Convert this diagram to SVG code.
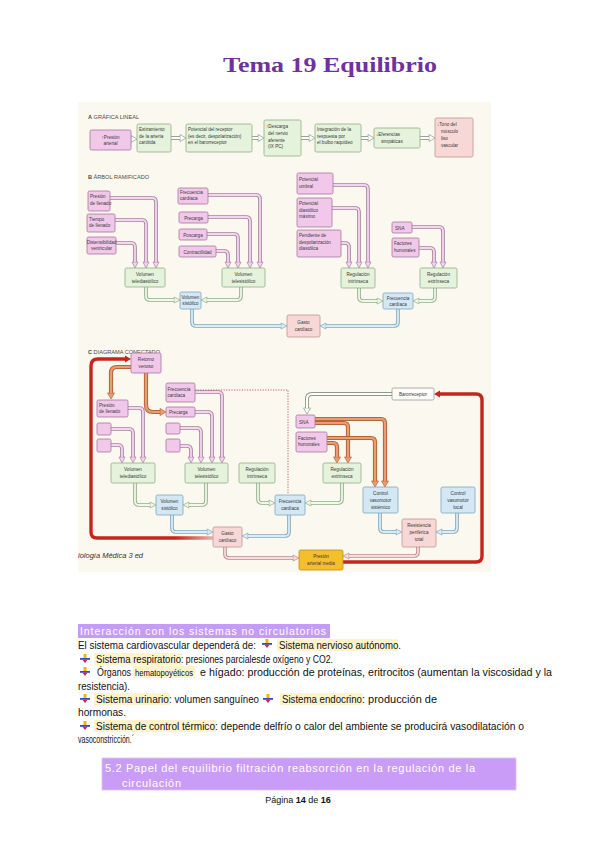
<svg xmlns="http://www.w3.org/2000/svg" xmlns:xlink="http://www.w3.org/1999/xlink" width="600" height="848" viewBox="0 0 600 848">
<style>
.t{font-family:"Liberation Sans",Arial,sans-serif;font-size:4.6px;fill:#3a3a3a}
.c{text-anchor:middle}
.hd{font-family:"Liberation Sans",Arial,sans-serif;font-size:5.6px;fill:#4a4a4a}
.pk{fill:#f1c8ea;stroke:#a7749f;stroke-width:0.8}
.gr{fill:#e5f2dc;stroke:#8fae84;stroke-width:0.8}
.bl{fill:#d3e8f4;stroke:#7fa6bf;stroke-width:0.8}
.ro{fill:#f8d8d6;stroke:#c2948f;stroke-width:0.8}
.yl{fill:#f4be2c;stroke:#c38d22;stroke-width:0.8}
.wh{fill:#fdfcf8;stroke:#9a9a9a;stroke-width:0.8}
.po{fill:none;stroke:#a67da0;stroke-width:3.6;marker-end:url(#mpk)}
.pi{fill:none;stroke:#f5d6f0;stroke-width:1.8}
.go{fill:none;stroke:#8fae84;stroke-width:3.6;marker-end:url(#mgr)}
.gi{fill:none;stroke:#f0f8ea;stroke-width:1.8}
.bo{fill:none;stroke:#7fa6bf;stroke-width:3.6;marker-end:url(#mbl)}
.bi{fill:none;stroke:#d8edf8;stroke-width:1.8}
.yo{fill:none;stroke:#8c9a88;stroke-width:4;marker-end:url(#mgy)}
.yi{fill:none;stroke:#ffffff;stroke-width:2.2}
.oo{fill:none;stroke:#b5653c;stroke-width:4.2;marker-end:url(#mor)}
.oi{fill:none;stroke:#e99d72;stroke-width:2.2}
.ho{fill:none;stroke:#b98a8a;stroke-width:3.6;marker-end:url(#mro)}
.hi{fill:none;stroke:#f6dcdc;stroke-width:1.8}
.bt{font-family:"Liberation Sans",Arial,sans-serif;font-size:10px;fill:#111}
.hl{fill:#fff3cc}
</style>
<defs>
<marker id="mpk" viewBox="-1 -1 8 8" refX="0" refY="3" markerWidth="8" markerHeight="8" markerUnits="userSpaceOnUse" orient="auto"><path d="M0,0 L6,3 L0,6 z" fill="#f5d6f0" stroke="#a67da0" stroke-width="0.7"/></marker>
<marker id="mgr" viewBox="-1 -1 8 8" refX="0" refY="3" markerWidth="8" markerHeight="8" markerUnits="userSpaceOnUse" orient="auto"><path d="M0,0 L6,3 L0,6 z" fill="#f0f8ea" stroke="#8fae84" stroke-width="0.7"/></marker>
<marker id="mbl" viewBox="-1 -1 8 8" refX="0" refY="3" markerWidth="8" markerHeight="8" markerUnits="userSpaceOnUse" orient="auto"><path d="M0,0 L6,3 L0,6 z" fill="#d8edf8" stroke="#7fa6bf" stroke-width="0.7"/></marker>
<marker id="mgy" viewBox="-1 -1 8 9" refX="0" refY="3.5" markerWidth="8" markerHeight="9" markerUnits="userSpaceOnUse" orient="auto"><path d="M0,0 L6,3.5 L0,7 z" fill="#ffffff" stroke="#8c9a88" stroke-width="0.7"/></marker>
<marker id="mor" viewBox="-1 -1 8 9" refX="0" refY="3.5" markerWidth="8" markerHeight="9" markerUnits="userSpaceOnUse" orient="auto"><path d="M0,0 L6,3.5 L0,7 z" fill="#e99d72" stroke="#b5653c" stroke-width="0.7"/></marker>
<marker id="mro" viewBox="-1 -1 8 8" refX="0" refY="3" markerWidth="8" markerHeight="8" markerUnits="userSpaceOnUse" orient="auto"><path d="M0,0 L6,3 L0,6 z" fill="#f6dcdc" stroke="#b98a8a" stroke-width="0.7"/></marker>
<marker id="mrd" viewBox="-1 -1 8 9" refX="0" refY="3.5" markerWidth="8" markerHeight="9" markerUnits="userSpaceOnUse" orient="auto"><path d="M0,0 L6,3.5 L0,7 z" fill="#c5261c"/></marker>
<linearGradient id="rg" gradientUnits="userSpaceOnUse" x1="120" y1="0" x2="213" y2="0"><stop offset="0" stop-color="#c5261c"/><stop offset="0.6" stop-color="#c5261c"/><stop offset="1" stop-color="#eab2ae"/></linearGradient>
<symbol id="bul" viewBox="0 0 10 9"><rect x="3.5" y="0" width="3" height="4" fill="#f5b400"/><rect x="0" y="4" width="10" height="1.8" fill="#2a4fd0"/><path d="M2.5,5.8 L7.5,5.8 L5,9 z" fill="#e0204a"/></symbol>
<path id="a1" d="M128,139 H131"/><path id="a2" d="M171,138 H180"/><path id="a3" d="M252,138 H258"/><path id="a4" d="M301,138 H309"/><path id="a5" d="M361,138 H368"/><path id="a6" d="M420,138 H429"/>
<path id="b1" d="M110,198 H152 Q156,198 156,202 V262"/><path id="b2" d="M115,220 H142 Q146,220 146,224 V262"/><path id="b3" d="M116,243 H131 Q135,243 135,247 V262"/>
<path id="b4" d="M208,195 H256 Q260,195 260,199 V262"/><path id="b5" d="M208,217 H246 Q250,217 250,221 V262"/><path id="b6" d="M207,234 H234 Q238,234 238,238 V262"/><path id="b7" d="M216,251 H224 Q228,251 228,255 V262"/>
<path id="b8" d="M333,185 H364 Q368,185 368,189 V262"/><path id="b9" d="M332,208 H355 Q359,208 359,212 V262"/><path id="b10" d="M341,243 H345 Q349,243 349,247 V262"/>
<path id="b11" d="M412,227 H439 Q443,227 443,231 V262"/><path id="b12" d="M419,248 H430 Q434,248 434,252 V262"/>
<path id="g1" d="M146,287 V296 Q146,300 150,300 H174"/><path id="g2" d="M241,287 V296 Q241,300 237,300 H207"/><path id="g3" d="M359,288 V297 Q359,301 363,301 H377"/><path id="g4" d="M435,288 V297 Q435,301 431,301 H419"/>
<path id="u1" d="M192,309 V322 Q192,326 196,326 H281"/><path id="u2" d="M398,309 V322 Q398,326 394,326 H326"/>
<path id="o1" d="M131,367 H117 Q111,367 111,373 V393"/><path id="o2" d="M146,373 V405 Q146,412 153,412 H160"/>
<path id="c1" d="M128,408 H139 Q143,408 143,412 V457"/><path id="c2" d="M111,429 H129 Q133,429 133,433 V457"/><path id="c3" d="M111,445 H118 Q122,445 122,449 V457"/>
<path id="c4" d="M195,392 H218 Q222,392 222,396 V457"/><path id="c5" d="M195,412 H208 Q212,412 212,416 V457"/><path id="c6" d="M180,428 H197 Q201,428 201,432 V457"/><path id="c7" d="M180,446 H187 Q191,446 191,450 V457"/>
<path id="o3" d="M315,419 H381 Q385,419 385,423 V481"/><path id="o4" d="M315,423 H344 Q348,423 348,427 V457"/><path id="o5" d="M327,438 H371 Q375,438 375,442 V481"/><path id="o6" d="M327,443 H333 Q337,443 337,447 V457"/>
<path id="h1" d="M392,394 H312 Q307,394 307,399 V408"/>
<path id="g5" d="M135,483 V501 Q135,505 139,505 H150"/><path id="g6" d="M206,483 V501 Q206,505 202,505 H189"/><path id="g7" d="M258,483 V499 Q258,503 262,503 H269"/><path id="g8" d="M342,483 V499 Q342,503 338,503 H311"/>
<path id="u3" d="M172,515 V528 Q172,532 176,532 H207"/><path id="u4" d="M289,515 V532 Q289,536 285,536 H248"/><path id="u5" d="M380,513 V528 Q380,532 384,532 H396"/><path id="u6" d="M457,513 V528 Q457,532 453,532 H442"/>
<path id="r1" d="M418,547 V552 Q418,556 414,556 H349"/><path id="r2" d="M225,547 V554 Q225,558 229,558 H293"/>
</defs>
<rect width="600" height="848" fill="#ffffff"/>
<text x="330" y="72" text-anchor="middle" textLength="214" lengthAdjust="spacingAndGlyphs" font-family="'Liberation Serif',Cambria,serif" font-weight="bold" font-size="21" fill="#7030a0">Tema 19 Equilibrio</text>
<rect x="78" y="102" width="413" height="470" fill="#fbf8ef"/>
<text class="hd" x="88" y="119"><tspan font-weight="bold">A</tspan>   GRÁFICA LINEAL</text>
<text class="hd" x="88" y="179"><tspan font-weight="bold">B</tspan>   ÁRBOL RAMIFICADO</text>
<text class="hd" x="88" y="354"><tspan font-weight="bold">C</tspan>   DIAGRAMA CONECTADO</text>
<text x="78" y="558" font-family="'Liberation Sans',Arial,sans-serif" font-style="italic" font-size="7.5" fill="#333">iología Médica 3 ed</text>
<g id="connectors">
<g>
<use xlink:href="#a1" class="yo"/><use xlink:href="#a1" class="yi"/><use xlink:href="#a2" class="yo"/><use xlink:href="#a2" class="yi"/><use xlink:href="#a3" class="yo"/><use xlink:href="#a3" class="yi"/><use xlink:href="#a4" class="yo"/><use xlink:href="#a4" class="yi"/><use xlink:href="#a5" class="yo"/><use xlink:href="#a5" class="yi"/><use xlink:href="#a6" class="yo"/><use xlink:href="#a6" class="yi"/>
<use xlink:href="#h1" class="yo"/><use xlink:href="#h1" class="yi"/>
</g>
<g>
<use xlink:href="#b1" class="po"/><use xlink:href="#b1" class="pi"/><use xlink:href="#b2" class="po"/><use xlink:href="#b2" class="pi"/><use xlink:href="#b3" class="po"/><use xlink:href="#b3" class="pi"/>
<use xlink:href="#b4" class="po"/><use xlink:href="#b4" class="pi"/><use xlink:href="#b5" class="po"/><use xlink:href="#b5" class="pi"/><use xlink:href="#b6" class="po"/><use xlink:href="#b6" class="pi"/><use xlink:href="#b7" class="po"/><use xlink:href="#b7" class="pi"/>
<use xlink:href="#b8" class="po"/><use xlink:href="#b8" class="pi"/><use xlink:href="#b9" class="po"/><use xlink:href="#b9" class="pi"/><use xlink:href="#b10" class="po"/><use xlink:href="#b10" class="pi"/>
<use xlink:href="#b11" class="po"/><use xlink:href="#b11" class="pi"/><use xlink:href="#b12" class="po"/><use xlink:href="#b12" class="pi"/>
<use xlink:href="#c1" class="po"/><use xlink:href="#c1" class="pi"/><use xlink:href="#c2" class="po"/><use xlink:href="#c2" class="pi"/><use xlink:href="#c3" class="po"/><use xlink:href="#c3" class="pi"/>
<use xlink:href="#c4" class="po"/><use xlink:href="#c4" class="pi"/><use xlink:href="#c5" class="po"/><use xlink:href="#c5" class="pi"/><use xlink:href="#c6" class="po"/><use xlink:href="#c6" class="pi"/><use xlink:href="#c7" class="po"/><use xlink:href="#c7" class="pi"/>
</g>
<g>
<use xlink:href="#g1" class="go"/><use xlink:href="#g1" class="gi"/><use xlink:href="#g2" class="go"/><use xlink:href="#g2" class="gi"/><use xlink:href="#g3" class="go"/><use xlink:href="#g3" class="gi"/><use xlink:href="#g4" class="go"/><use xlink:href="#g4" class="gi"/>
<use xlink:href="#g5" class="go"/><use xlink:href="#g5" class="gi"/><use xlink:href="#g6" class="go"/><use xlink:href="#g6" class="gi"/><use xlink:href="#g7" class="go"/><use xlink:href="#g7" class="gi"/><use xlink:href="#g8" class="go"/><use xlink:href="#g8" class="gi"/>
</g>
<g>
<use xlink:href="#u1" class="bo"/><use xlink:href="#u1" class="bi"/><use xlink:href="#u2" class="bo"/><use xlink:href="#u2" class="bi"/>
<use xlink:href="#u3" class="bo"/><use xlink:href="#u3" class="bi"/><use xlink:href="#u4" class="bo"/><use xlink:href="#u4" class="bi"/><use xlink:href="#u5" class="bo"/><use xlink:href="#u5" class="bi"/><use xlink:href="#u6" class="bo"/><use xlink:href="#u6" class="bi"/>
</g>
<g>
<use xlink:href="#r1" class="ho"/><use xlink:href="#r1" class="hi"/><use xlink:href="#r2" class="ho"/><use xlink:href="#r2" class="hi"/>
</g>
<g>
<use xlink:href="#o1" class="oo"/><use xlink:href="#o1" class="oi"/><use xlink:href="#o2" class="oo"/><use xlink:href="#o2" class="oi"/>
<use xlink:href="#o3" class="oo"/><use xlink:href="#o3" class="oi"/><use xlink:href="#o4" class="oo"/><use xlink:href="#o4" class="oi"/>
<use xlink:href="#o5" class="oo"/><use xlink:href="#o5" class="oi"/><use xlink:href="#o6" class="oo"/><use xlink:href="#o6" class="oi"/>
</g>
<path d="M195,390 H288 V494" fill="none" stroke="#c0504d" stroke-width="0.9" stroke-dasharray="1.2,1.4"/>
<path d="M213,538 H97 Q91,538 91,532 V366 Q91,359 98,359 H125" fill="none" stroke="url(#rg)" stroke-width="3.4" marker-end="url(#mrd)"/>
<path d="M343,562 H476 Q482,562 482,556 V400 Q482,394 476,394 H440" fill="none" stroke="#c5261c" stroke-width="3.4" marker-end="url(#mrd)"/>
</g>
<g id="nodes-a">
<g id="a-presion"><rect class="pk" x="90" y="130" width="41" height="20" rx="1.5"/><text class="t c" x="110.5" y="138.5">↑Presión<tspan x="110.5" dy="6.5">arterial</tspan></text></g>
<g id="a-estiramiento"><rect class="gr" x="137" y="124" width="34" height="28" rx="1.5"/><text class="t" x="139" y="131">Estiramiento<tspan x="139" dy="6.5">de la arteria</tspan><tspan x="139" dy="6.5">carótida</tspan></text></g>
<g id="a-potencial"><rect class="gr" x="186" y="124" width="66" height="28" rx="1.5"/><text class="t" x="188" y="131" font-size="4.4">Potencial del receptor<tspan x="188" dy="6.5">(es decir, despolarización)</tspan><tspan x="188" dy="6.5">en el barorreceptor</tspan></text></g>
<g id="a-descarga"><rect class="gr" x="264" y="120" width="37" height="36" rx="1.5"/><text class="t" x="266" y="128">↑Descarga<tspan x="268" dy="6.8">del nervio</tspan><tspan x="268" dy="6.8">aferente</tspan><tspan x="268" dy="6.8">(IX PC)</tspan></text></g>
<g id="a-integracion"><rect class="gr" x="315" y="124" width="46" height="28" rx="1.5"/><text class="t" x="317" y="131">Integración de la<tspan x="317" dy="6.5">respuesta por</tspan><tspan x="317" dy="6.5">el bulbo raquídeo</tspan></text></g>
<g id="a-eferencias"><rect class="gr" x="374" y="128" width="46" height="20" rx="1.5"/><text class="t" x="376" y="136">↓Eferencias<tspan x="381" dy="6.5">simpáticas</tspan></text></g>
<g id="a-tono"><rect class="ro" x="435" y="118" width="38" height="39" rx="1.5"/><text class="t" x="437" y="126">↓Tono del<tspan x="441" dy="7">músculo</tspan><tspan x="441" dy="7">liso</tspan><tspan x="441" dy="7">vascular</tspan></text></g>
</g>
<g id="nodes-b">
<g id="b-presion-llenado"><rect class="pk" x="88" y="191" width="22" height="20" rx="1.5"/><text class="t" x="90" y="198">Presión<tspan x="90" dy="6.5">de llenado</tspan></text></g>
<g id="b-tiempo-llenado"><rect class="pk" x="87" y="214" width="28" height="18" rx="1.5"/><text class="t" x="89" y="220.5">Tiempo<tspan x="89" dy="6.5">de llenado</tspan></text></g>
<g id="b-distensibilidad"><rect class="pk" x="87" y="237" width="29" height="17" rx="1.5"/><text class="t c" x="101.5" y="243.5" font-size="4.3">Distensibilidad<tspan x="101.5" dy="6.5">ventricular</tspan></text></g>
<g id="b-frecuencia"><rect class="pk" x="178" y="188" width="30" height="16" rx="1.5"/><text class="t" x="180" y="194">Frecuencia<tspan x="180" dy="6">cardíaca</tspan></text></g>
<g id="b-precarga"><rect class="pk" x="179" y="212" width="29" height="11" rx="1.5"/><text class="t c" x="193.5" y="219.5">Precarga</text></g>
<g id="b-poscarga"><rect class="pk" x="179" y="229" width="28" height="11" rx="1.5"/><text class="t c" x="193" y="236.5">Poscarga</text></g>
<g id="b-contractilidad"><rect class="pk" x="179" y="246" width="37" height="11" rx="1.5"/><text class="t c" x="197.5" y="253.5">Contractilidad</text></g>
<g id="b-telediastolico"><rect class="gr" x="125" y="268" width="40" height="19" rx="1.5"/><text class="t c" x="145" y="276">Volumen<tspan x="145" dy="6.5">telediastólico</tspan></text></g>
<g id="b-telesistolico"><rect class="gr" x="222" y="268" width="43" height="19" rx="1.5"/><text class="t c" x="243.5" y="276">Volumen<tspan x="243.5" dy="6.5">telesistólico</tspan></text></g>
<g id="b-sistolico"><rect class="bl" x="180" y="292" width="21" height="17" rx="1.5"/><text class="t c" x="190.5" y="299" font-size="4.3">Volumen<tspan x="190.5" dy="6">sistólico</tspan></text></g>
<g id="b-gasto"><rect class="ro" x="287" y="315" width="33" height="22" rx="1.5"/><text class="t c" x="303.5" y="324">Gasto<tspan x="303.5" dy="6.5">cardíaco</tspan></text></g>
<g id="b-umbral"><rect class="pk" x="297" y="173" width="36" height="21" rx="1.5"/><text class="t" x="299" y="181">Potencial<tspan x="299" dy="6.5">umbral</tspan></text></g>
<g id="b-diastolico"><rect class="pk" x="297" y="198" width="35" height="29" rx="1.5"/><text class="t" x="299" y="205">Potencial<tspan x="299" dy="6.5">diastólico</tspan><tspan x="299" dy="6.5">máximo</tspan></text></g>
<g id="b-pendiente"><rect class="pk" x="297" y="230" width="44" height="27" rx="1.5"/><text class="t" x="299" y="237">Pendiente de<tspan x="299" dy="6.5">despolarización</tspan><tspan x="299" dy="6.5">diastólica</tspan></text></g>
<g id="b-intrinseca"><rect class="gr" x="341" y="268" width="34" height="20" rx="1.5"/><text class="t c" x="358" y="276">Regulación<tspan x="358" dy="6.5">intrínseca</tspan></text></g>
<g id="b-sna"><rect class="pk" x="392" y="222" width="20" height="11" rx="1.5"/><text class="t" x="395" y="229.5">SNA</text></g>
<g id="b-factores"><rect class="pk" x="392" y="238" width="27" height="19" rx="1.5"/><text class="t" x="394" y="245">Factores<tspan x="394" dy="6.5">humorales</tspan></text></g>
<g id="b-extrinseca"><rect class="gr" x="420" y="268" width="37" height="20" rx="1.5"/><text class="t c" x="438.5" y="276">Regulación<tspan x="438.5" dy="6.5">extrínseca</tspan></text></g>
<g id="b-frec-cardiaca"><rect class="bl" x="383" y="293" width="30" height="16" rx="1.5"/><text class="t c" x="398" y="299.5">Frecuencia<tspan x="398" dy="6">cardíaca</tspan></text></g>
</g>
<g id="nodes-c">
<g id="c-retorno"><rect class="pk" x="131" y="353" width="30" height="20" rx="1.5"/><text class="t c" x="146" y="361">Retorno<tspan x="146" dy="6.5">venoso</tspan></text></g>
<g id="c-presion-llenado"><rect class="pk" x="97" y="400" width="31" height="17" rx="1.5"/><text class="t" x="99" y="406.5">Presión<tspan x="99" dy="6.5">de llenado</tspan></text></g>
<g id="c-blank1"><rect class="pk" x="97" y="423" width="14" height="12" rx="1.5"/></g>
<g id="c-blank2"><rect class="pk" x="97" y="439" width="14" height="13" rx="1.5"/></g>
<g id="c-frecuencia"><rect class="pk" x="166" y="383" width="29" height="19" rx="1.5"/><text class="t" x="167.5" y="390.5">Frecuencia<tspan x="167.5" dy="6.5">cardíaca</tspan></text></g>
<g id="c-precarga"><rect class="pk" x="166" y="407" width="29" height="10" rx="1.5"/><text class="t" x="169" y="414">Precarga</text></g>
<g id="c-blank3"><rect class="pk" x="166" y="423" width="14" height="11" rx="1.5"/></g>
<g id="c-blank4"><rect class="pk" x="166" y="439" width="14" height="13" rx="1.5"/></g>
<g id="c-telediastolico"><rect class="gr" x="111" y="463" width="44" height="20" rx="1.5"/><text class="t c" x="133" y="471">Volumen<tspan x="133" dy="6.5">telediastólico</tspan></text></g>
<g id="c-telesistolico"><rect class="gr" x="185" y="463" width="43" height="20" rx="1.5"/><text class="t c" x="206.5" y="471">Volumen<tspan x="206.5" dy="6.5">telesistólico</tspan></text></g>
<g id="c-intrinseca"><rect class="gr" x="239" y="463" width="36" height="20" rx="1.5"/><text class="t c" x="257" y="471">Regulación<tspan x="257" dy="6.5">intrínseca</tspan></text></g>
<g id="c-sistolico"><rect class="bl" x="156" y="495" width="27" height="20" rx="1.5"/><text class="t c" x="169.5" y="503">Volumen<tspan x="169.5" dy="6.5">sistólico</tspan></text></g>
<g id="c-frec-cardiaca"><rect class="bl" x="275" y="495" width="30" height="20" rx="1.5"/><text class="t c" x="290" y="503">Frecuencia<tspan x="290" dy="6.5">cardíaca</tspan></text></g>
<g id="c-gasto"><rect class="ro" x="213" y="527" width="29" height="20" rx="1.5"/><text class="t c" x="227.5" y="535">Gasto<tspan x="227.5" dy="6.5">cardíaco</tspan></text></g>
<g id="c-pam"><rect class="yl" x="299" y="550" width="44" height="20" rx="1.5"/><text class="t c" x="321" y="558">Presión<tspan x="321" dy="6.5">arterial media</tspan></text></g>
<g id="c-resistencia"><rect class="ro" x="402" y="519" width="34" height="28" rx="1.5"/><text class="t c" x="419" y="527">Resistencia<tspan x="419" dy="6.8">periférica</tspan><tspan x="419" dy="6.8">total</tspan></text></g>
<g id="c-control-sistemico"><rect class="bl" x="363" y="487" width="35" height="26" rx="1.5"/><text class="t c" x="380.5" y="495">Control<tspan x="380.5" dy="6.8">vasomotor</tspan><tspan x="380.5" dy="6.8">sistémico</tspan></text></g>
<g id="c-control-local"><rect class="bl" x="441" y="487" width="34" height="26" rx="1.5"/><text class="t c" x="458" y="495">Control<tspan x="458" dy="6.8">vasomotor</tspan><tspan x="458" dy="6.8">local</tspan></text></g>
<g id="c-extrinseca"><rect class="gr" x="323" y="463" width="38" height="20" rx="1.5"/><text class="t c" x="342" y="471">Regulación<tspan x="342" dy="6.5">extrínseca</tspan></text></g>
<g id="c-sna"><rect class="pk" x="296" y="415" width="19" height="13" rx="1.5"/><text class="t" x="299" y="423.5">SNA</text></g>
<g id="c-factores"><rect class="pk" x="296" y="432" width="31" height="20" rx="1.5"/><text class="t" x="298" y="439.5">Factores<tspan x="298" dy="6.5">humorales</tspan></text></g>
<g id="c-barorreceptor"><rect class="wh" x="392" y="388" width="42" height="12" rx="1.5"/><text class="t c" x="413" y="395.8">Barorreceptor</text></g>
</g>
<g id="text-block">
<rect x="78" y="624" width="252" height="14" fill="#c49cf8"/>
<text x="80" y="635" font-family="'Liberation Sans',Arial,sans-serif" font-size="10.5" fill="#ffffff" textLength="246" lengthAdjust="spacing">Interacción con los sistemas no circulatorios</text>
<rect class="hl" x="277" y="639" width="121" height="12"/>
<rect class="hl" x="94" y="653" width="88" height="12"/>
<rect class="hl" x="133" y="666" width="62" height="12"/>
<rect class="hl" x="94" y="693" width="76" height="12"/>
<rect class="hl" x="280" y="693" width="83" height="12"/>
<rect class="hl" x="94" y="720" width="122" height="12"/>
<text class="bt" y="648.5"><tspan x="78" textLength="178" lengthAdjust="spacingAndGlyphs">El sistema cardiovascular dependerá de:</tspan><tspan x="279" textLength="122" lengthAdjust="spacingAndGlyphs">Sistema nervioso autónomo.</tspan></text>
<use xlink:href="#bul" x="262" y="639" width="10" height="9"/>
<use xlink:href="#bul" x="80" y="654" width="10" height="9"/>
<text class="bt" y="662.5"><tspan x="96" textLength="85" lengthAdjust="spacingAndGlyphs">Sistema respiratorio</tspan><tspan x="181" textLength="152" lengthAdjust="spacingAndGlyphs">: presiones parcialesde oxígeno y CO2.</tspan></text>
<use xlink:href="#bul" x="80" y="667" width="10" height="9"/>
<text class="bt" y="675.5"><tspan x="97" textLength="34" lengthAdjust="spacingAndGlyphs">Órganos</tspan><tspan x="135" font-size="8.3" textLength="58" lengthAdjust="spacingAndGlyphs">hematopoyéticos</tspan><tspan x="200" textLength="352" lengthAdjust="spacingAndGlyphs">e hígado: producción de proteínas, eritrocitos (aumentan la viscosidad y la</tspan></text>
<text class="bt" x="78" y="689.5" textLength="52" lengthAdjust="spacingAndGlyphs">resistencia).</text>
<use xlink:href="#bul" x="80" y="694" width="10" height="9"/>
<use xlink:href="#bul" x="263" y="694" width="10" height="9"/>
<text class="bt" y="702.5"><tspan x="96" textLength="73" lengthAdjust="spacingAndGlyphs">Sistema urinario</tspan><tspan x="169" textLength="90" lengthAdjust="spacingAndGlyphs">: volumen sanguíneo</tspan><tspan x="282" textLength="80" lengthAdjust="spacingAndGlyphs">Sistema endocrino</tspan><tspan x="362" textLength="75" lengthAdjust="spacingAndGlyphs">: producción de</tspan></text>
<text class="bt" x="78" y="715.5" textLength="48" lengthAdjust="spacingAndGlyphs">hormonas.</text>
<use xlink:href="#bul" x="80" y="721" width="10" height="9"/>
<text class="bt" y="729.5"><tspan x="96" textLength="119" lengthAdjust="spacingAndGlyphs">Sistema de control térmico</tspan><tspan x="215" textLength="309" lengthAdjust="spacingAndGlyphs">: depende delfrío o calor del ambiente se producirá vasodilatación o</tspan></text>
<text class="bt" x="78" y="742.5" textLength="56" lengthAdjust="spacingAndGlyphs">vasoconstricción.´</text>
<rect x="102" y="758" width="414" height="32" fill="#c99cf8" stroke="#dcc3fb" stroke-width="0.8"/>
<text x="105" y="771.5" font-family="'Liberation Sans',Arial,sans-serif" font-size="11" fill="#ffffff" textLength="370" lengthAdjust="spacing">5.2 Papel del equilibrio filtración reabsorción en la regulación de la</text>
<text x="122" y="786.5" font-family="'Liberation Sans',Arial,sans-serif" font-size="11" fill="#ffffff" textLength="59" lengthAdjust="spacing">circulación</text>
<text x="298" y="803" text-anchor="middle" font-family="'Liberation Sans',Arial,sans-serif" font-size="9" fill="#111">Página <tspan font-weight="bold">14</tspan> de <tspan font-weight="bold">16</tspan></text>
</g>
</svg>
